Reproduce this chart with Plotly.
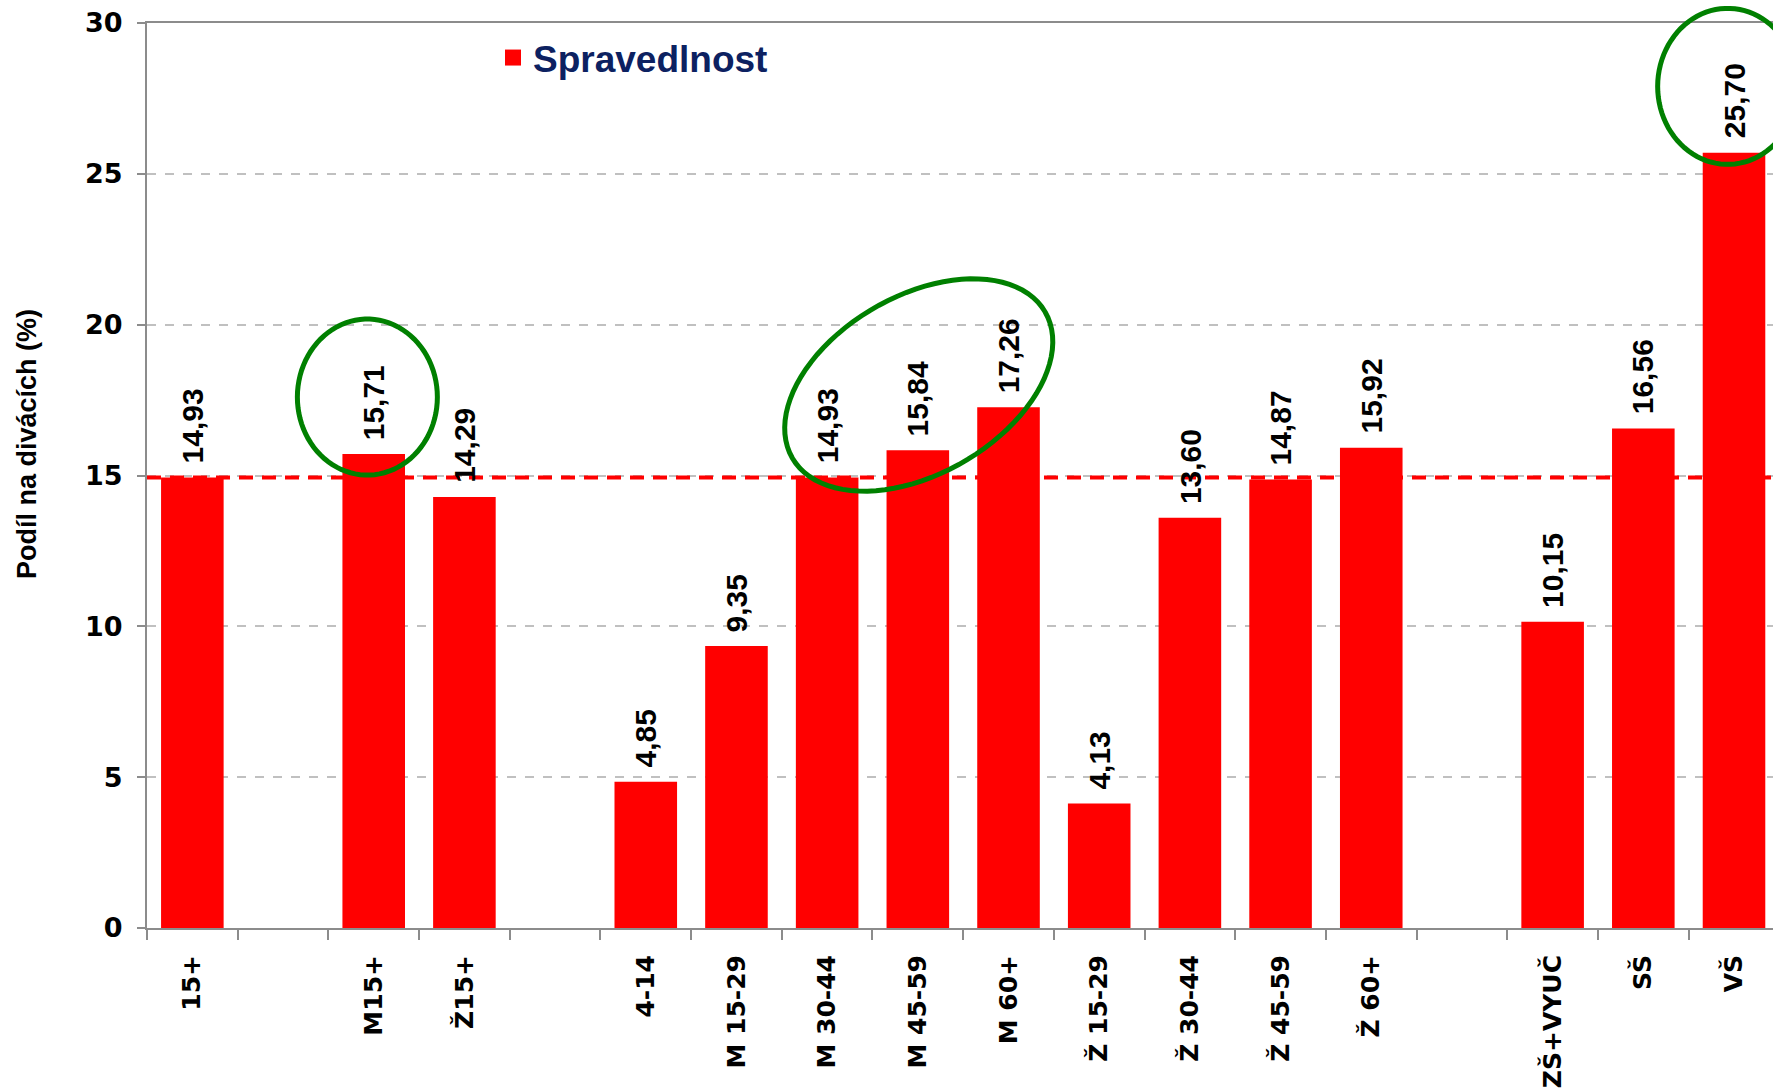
import math
import plotly.graph_objects as go

# ---------------- data ----------------
categories = ["15+", "", "M15+", "Ž15+", "", "4-14", "M 15-29", "M 30-44", "M 45-59",
              "M 60+", "Ž 15-29", "Ž 30-44", "Ž 45-59", "Ž 60+", "", "ZŠ+VYUČ", "SŠ", "VŠ"]
values = [14.93, None, 15.71, 14.29, None, 4.85, 9.35, 14.93, 15.84,
          17.26, 4.13, 13.60, 14.87, 15.92, None, 10.15, 16.56, 25.70]
series_name = "Spravedlnost"
reference_value = values[0]          # 15+ average drawn as red dashed line
y_tick_values = [0, 5, 10, 15, 20, 25, 30]
y_title = "Podíl na divácích (%)"

# ---------------- layout constants ----------------
W, H = 1773, 1089
ML, MR, MT, MB = 147, 0, 23, 161
PW, PH = W - ML - MR, H - MT - MB
XMIN = -0.5
XMAX = 17.43
YMIN, YMAX = 0, 30

XTICK_FONT = dict(family="DejaVu Sans, Verdana, sans-serif", size=25, color="black", weight="bold")
YTICK_FONT = dict(family="DejaVu Sans, Verdana, sans-serif", size=27, color="black", weight="bold")
LABEL_FONT = dict(family="Liberation Sans, Arial, sans-serif", size=30, color="black", weight="bold")
AXIS_GRAY = "#8c8c8c"

idx = list(range(len(categories)))


def data_to_px(x, y):
    px = ML + (x - XMIN) / (XMAX - XMIN) * PW
    py = MT + (1 - (y - YMIN) / (YMAX - YMIN)) * PH
    return px, py


def px_to_paper(px, py):
    return (px - ML) / PW, 1 - (py - MT) / PH


def ellipse_path(cx, cy, a, b, angle_deg, n=90):
    """Ellipse centred at data (cx, cy), semi-axes a, b in pixels, rotated angle_deg (ccw)."""
    pcx, pcy = data_to_px(cx, cy)
    th = math.radians(angle_deg)
    pts = []
    for k in range(n):
        t = 2 * math.pi * k / n
        ex, ey = a * math.cos(t), b * math.sin(t)
        rx = ex * math.cos(th) - ey * math.sin(th)
        ry = ex * math.sin(th) + ey * math.cos(th)
        pts.append(px_to_paper(pcx + rx, pcy - ry))
    d = "M " + " L ".join(f"{x:.5f},{y:.5f}" for x, y in pts) + " Z"
    return d


# highlight ellipses (decoration): centre in data units, semi-axes in px, rotation
highlights = [
    (1.93, 17.6, 70, 78, 0),
    (8.01, 18.0, 146, 89, 30),
    (16.93, 27.9, 70, 78, 0),
]

fig = go.Figure()

fig.add_trace(go.Bar(
    x=idx, y=values, width=0.69,
    marker=dict(color="#ff0000", line=dict(width=0)),
    showlegend=False, name=series_name,
))

# legend entry
fig.add_trace(go.Scatter(
    x=[None], y=[None], mode="markers", name=series_name,
    marker=dict(symbol="square", size=19, color="#ff0000"),
    showlegend=True,
))

annotations = []
for i, v in zip(idx, values):
    if v is None:
        continue
    annotations.append(dict(
        x=i, y=v, xref="x", yref="y", text=f"{v:.2f}".replace(".", ","),
        textangle=-90, showarrow=False, xanchor="center", yanchor="bottom",
        yshift=12, font=LABEL_FONT,
    ))

annotations.append(dict(
    x=px_to_paper(27, 0)[0], y=px_to_paper(0, 444)[1], xref="paper", yref="paper",
    text=y_title, textangle=-90, showarrow=False, xanchor="center", yanchor="middle",
    font=dict(family="Liberation Sans, Arial, sans-serif", size=27, color="black", weight="bold"),
))

shapes = [dict(
    type="line", xref="paper", x0=0, x1=1, yref="y", y0=reference_value, y1=reference_value,
    line=dict(color="#ff0000", width=4, dash="14px,9px"), layer="above",
)]
for cx, cy, a, b, ang in highlights:
    shapes.append(dict(
        type="path", xref="paper", yref="paper", path=ellipse_path(cx, cy, a, b, ang),
        line=dict(color="#008000", width=5), fillcolor="rgba(0,0,0,0)", layer="above",
    ))

fig.update_layout(
    width=W, height=H,
    margin=dict(l=ML, r=MR, t=MT, b=MB, pad=0),
    paper_bgcolor="white", plot_bgcolor="white",
    showlegend=True,
    legend=dict(
        x=px_to_paper(493, 0)[0], y=px_to_paper(0, 58)[1], xanchor="left", yanchor="middle",
        bgcolor="rgba(0,0,0,0)",
        font=dict(family="Liberation Sans, Arial, sans-serif", size=37, color="#0c2161", weight="bold"),
    ),
    annotations=annotations,
    shapes=shapes,
    xaxis=dict(
        range=[XMIN, XMAX], tickmode="array", tickvals=idx, ticktext=categories,
        tickangle=-90, ticks="", tickfont=XTICK_FONT, ticklabelstandoff=15,
        showline=True, linecolor=AXIS_GRAY, linewidth=2, mirror=True,
        showgrid=False, zeroline=False,
        minor=dict(tickmode="array", tickvals=[i - 0.5 for i in range(len(categories) + 1)],
                   ticks="outside", ticklen=10, tickwidth=2, tickcolor=AXIS_GRAY, showgrid=False),
    ),
    yaxis=dict(
        range=[YMIN, YMAX], tickmode="array", tickvals=y_tick_values,
        ticks="outside", ticklen=8, tickwidth=2, tickcolor=AXIS_GRAY,
        tickfont=YTICK_FONT, ticklabelstandoff=9,
        showline=True, linecolor=AXIS_GRAY, linewidth=2,
        showgrid=True, gridcolor="#c0c0c0", gridwidth=2, griddash="9px,9px",
        zeroline=False,
    ),
)

fig.write_html("out.html", config={"displayModeBar": False},
               post_script="document.body.style.margin='0';")
